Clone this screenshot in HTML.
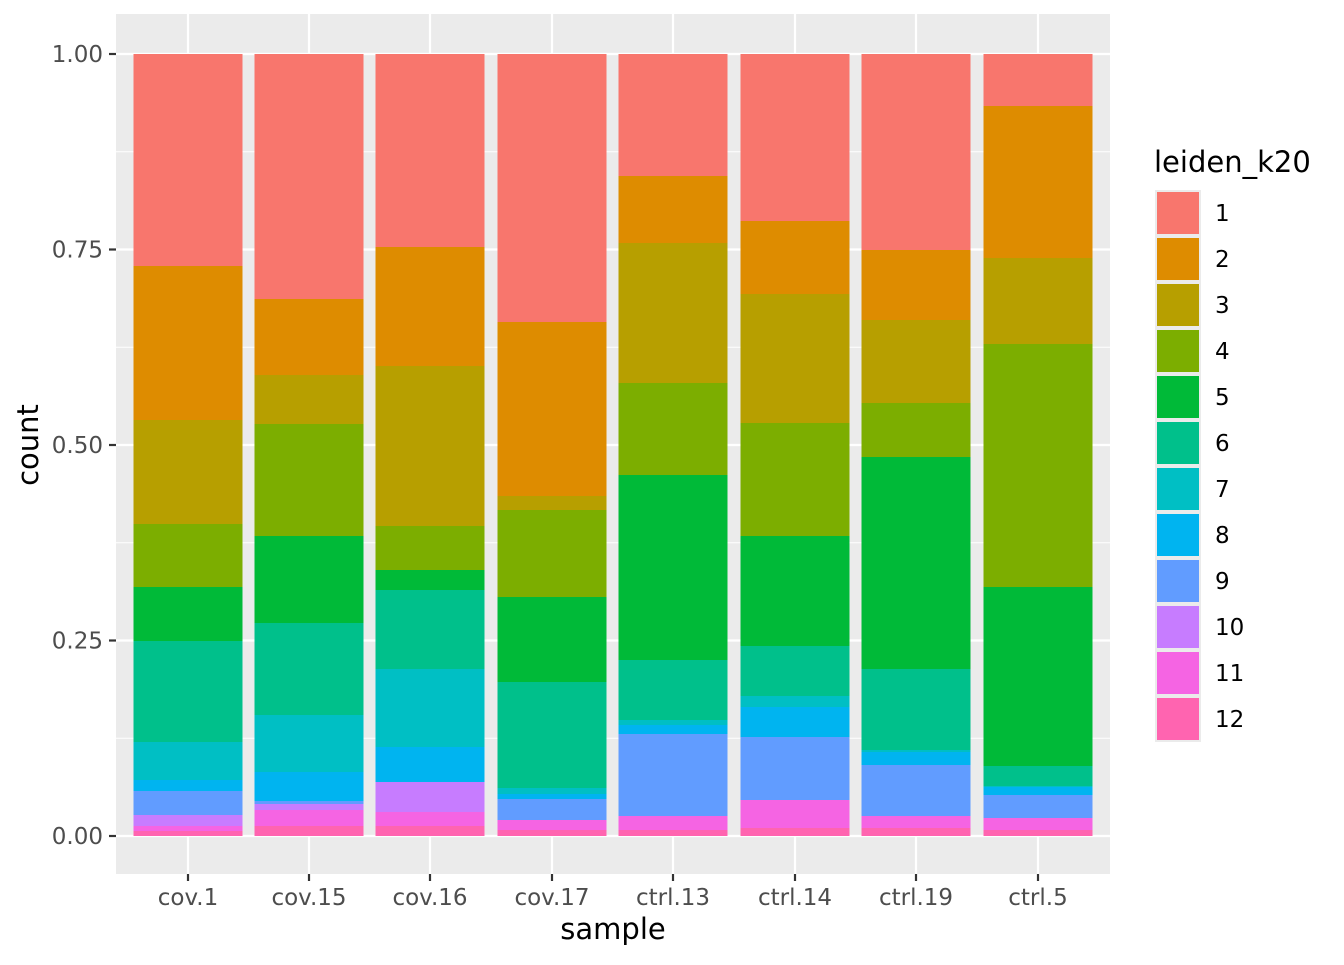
<!DOCTYPE html>
<html><head><meta charset="utf-8"><style>
html,body{margin:0;padding:0;background:#fff;}
svg text{font-family:"DejaVu Sans","Liberation Sans",sans-serif;}
</style></head><body>
<svg id="s" width="1344" height="960" xmlns="http://www.w3.org/2000/svg">
<rect x="0" y="0" width="1344" height="960" fill="#fff"/>
<rect x="116" y="14" width="994" height="860" fill="#ebebeb"/>
<g id="grid"></g>
<g id="bars"></g>
<g id="axes"></g>
<text x="1154" y="172" font-size="29" fill="#000">leiden_k20</text>
<g id="leg"></g>
<text x="613" y="939" font-size="29" text-anchor="middle" fill="#000">sample</text>
<text transform="translate(38,445) rotate(-90)" font-size="29" text-anchor="middle" fill="#000">count</text>
</svg>
<script>
var NS="http://www.w3.org/2000/svg";
function el(p,t,a,txt){var e=document.createElementNS(NS,t);for(var k in a)e.setAttribute(k,a[k]);if(txt!==undefined)e.textContent=txt;document.getElementById(p).appendChild(e);return e;}
var cols=["#F8766D","#DE8C00","#B79F00","#7CAE00","#00BA38","#00C08B","#00BFC4","#00B4F0","#619CFF","#C77CFF","#F564E3","#FF64B0"];
var names=["cov.1","cov.15","cov.16","cov.17","ctrl.13","ctrl.14","ctrl.19","ctrl.5"];
var cx=[188,309,430,552,673,795,916,1038];
var b=[
[266,420,524,587,641,742,780,791,815,826,831,836],
[299,375,424,536,623,715,772,801,804,810,826,836],
[247,366,526,570,590,669,747,782,782,812,826,836],
[322,496,510,597,682,788,794,799,820,820,830,836],
[176,243,383,475,660,720,725,734,816,816,830,836],
[221,294,423,536,646,696,707,737,800,800,828,836],
[250,320,403,457,669,750,752,765,816,816,828,836],
[106,258,344,587,766,786,787,795,818,818,830,836]];
[151.75,347.25,542.75,738.25].forEach(function(y){el("grid","line",{x1:116,x2:1110,y1:y,y2:y,stroke:"#fff","stroke-width":1});});
[54,249.5,445,640.5,836].forEach(function(y,i){el("grid","line",{x1:116,x2:1110,y1:y,y2:y,stroke:"#fff","stroke-width":2.2});
 el("axes","line",{x1:109,x2:116,y1:y,y2:y,stroke:"#333","stroke-width":2.2});
 el("axes","text",{x:103,y:y+8,"font-size":23,"text-anchor":"end",fill:"#4d4d4d"},["1.00","0.75","0.50","0.25","0.00"][i]);});
cx.forEach(function(x,i){el("grid","line",{x1:x,x2:x,y1:14,y2:874,stroke:"#fff","stroke-width":2.2});
 el("axes","line",{x1:x,x2:x,y1:874,y2:881,stroke:"#333","stroke-width":2.2});
 el("axes","text",{x:x,y:905,"font-size":23,"text-anchor":"middle",fill:"#4d4d4d"},names[i]);
 var top=54;b[i].forEach(function(bt,j){if(bt>top)el("bars","rect",{x:x-54.5,y:top,width:109,height:bt-top,fill:cols[j]});top=Math.max(top,bt);});});
cols.forEach(function(c,j){var y=190+46*j;el("leg","rect",{x:1155,y:y,width:46,height:46,fill:"#ebebeb"});
 el("leg","rect",{x:1157,y:y+2,width:42,height:42,fill:c});
 el("leg","text",{x:1215,y:y+31,"font-size":23,fill:"#000"},String(j+1));});
</script>
</body></html>
